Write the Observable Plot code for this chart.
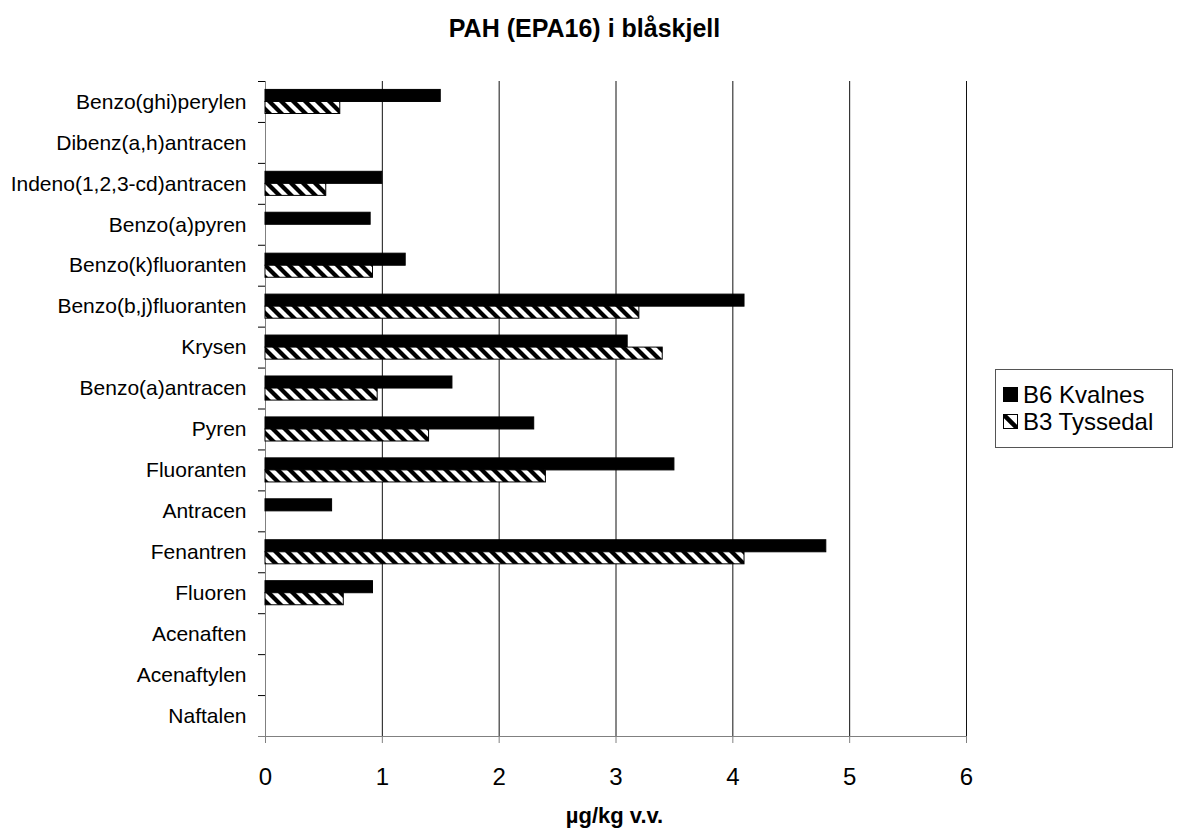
<!DOCTYPE html>
<html>
<head>
<meta charset="utf-8">
<script src="https://cdn.jsdelivr.net/npm/d3@7"></script>
<script src="https://cdn.jsdelivr.net/npm/@observablehq/plot@0.6"></script>
<style>
  body { margin: 0; background: #fff; font-family: "Liberation Sans", Arial, sans-serif; }
  #wrap { position: relative; width: 1179px; height: 839px; background: #fff; }
  .t { position: absolute; white-space: nowrap; line-height: 1; color: #000; }
  #legend { position: absolute; box-sizing: border-box; border: 1px solid #555; background: #fff; }
  .row { position: absolute; white-space: nowrap; line-height: 1; font-size: 24px; height: 24px; width: 170px; }
  .row svg { position: absolute; }
</style>
</head>
<body>
<div id="wrap"></div>
<script>
const title = "PAH (EPA16) i blåskjell";
const xLabel = "µg/kg v.v.";
const categories = [
  "Benzo(ghi)perylen", "Dibenz(a,h)antracen", "Indeno(1,2,3-cd)antracen", "Benzo(a)pyren",
  "Benzo(k)fluoranten", "Benzo(b,j)fluoranten", "Krysen", "Benzo(a)antracen", "Pyren",
  "Fluoranten", "Antracen", "Fenantren", "Fluoren", "Acenaften", "Acenaftylen", "Naftalen"
];
const seriesNames = ["B6 Kvalnes", "B3 Tyssedal"];
const kvalnes  = [1.5, null, 1.0, 0.9, 1.2, 4.1, 3.1, 1.6, 2.3, 3.5, 0.57, 4.8, 0.92, null, null, null];
const tyssedal = [0.64, null, 0.52, null, 0.92, 3.2, 3.4, 0.96, 1.4, 2.4, null, 4.1, 0.67, null, null, null];
const xTicks = [0, 1, 2, 3, 4, 5, 6];

const kvalnesRows = categories.map((c, i) => ({cat: c, value: kvalnes[i]})).filter(d => d.value != null);
const tyssedalRows = categories.map((c, i) => ({cat: c, value: tyssedal[i]})).filter(d => d.value != null);

const W = 1179, H = 839, mt = 81, mb = 103, ml = 265, mr = 213;
const bw = (H - mt - mb) / categories.length;   // band height per category
const barH = bw / 3.4;                           // each bar ~ 30% of band
const gap = 0.7 * barH;                          // outer padding of the bar pair
const font = "'Liberation Sans', Arial, sans-serif";

const chart = Plot.plot({
  width: W, height: H,
  marginTop: mt, marginBottom: mb, marginLeft: ml, marginRight: mr,
  style: {fontFamily: font, background: "white", color: "black"},
  x: {domain: [xTicks[0], xTicks[xTicks.length - 1]]},
  y: {domain: categories, padding: 0, round: false},
  marks: [
    Plot.ruleX(xTicks.slice(1), {stroke: "#111", strokeWidth: 1}),
    Plot.ruleX([0], {stroke: "#808080"}),
    Plot.barX(kvalnesRows, {x: "value", y: "cat", fill: "black", stroke: "black", strokeWidth: 1,
      insetTop: gap, insetBottom: gap + barH}),
    Plot.barX(tyssedalRows, {x: "value", y: "cat", fill: "url(#hatch)", stroke: "black", strokeWidth: 1,
      insetTop: gap + barH, insetBottom: gap}),
    Plot.gridY({ticks: [categories[categories.length - 1]], dy: bw / 2, insetLeft: -7, stroke: "#808080", strokeOpacity: 1}),
    Plot.axisX({anchor: "bottom", ticks: xTicks, tickFormat: d3.format("d"), tickSize: 7, tickPadding: 24,
      fontSize: 24, stroke: "#808080", fill: "black", label: null}),
    Plot.axisY({anchor: "left", tickSize: 0, tickPadding: 19, fontSize: 21, fill: "black", label: null}),
    Plot.axisY({anchor: "left", tickSize: 7, tickFormat: () => "", dy: -bw / 2, stroke: "black", label: null})
  ]
});

// hatch pattern definition
const P = 12;
const defs = d3.select(chart).insert("defs", ":first-child");
const pat = defs.append("pattern").attr("id", "hatch").attr("patternUnits", "userSpaceOnUse")
  .attr("width", P).attr("height", P);
pat.append("rect").attr("width", P).attr("height", P).attr("fill", "white");
pat.append("path")
  .attr("d", `M0,0L${P},${P}M${-P/2},${P/2}L${P/2},${1.5*P}M${P/2},${-P/2}L${1.5*P},${P/2}`)
  .attr("stroke", "black").attr("stroke-width", P / (2 * Math.SQRT2));
const pat2 = defs.append("pattern").attr("id", "hatchLegend").attr("patternUnits", "userSpaceOnUse")
  .attr("width", 20).attr("height", 20);
pat2.append("rect").attr("width", 20).attr("height", 20).attr("fill", "white");
pat2.append("path").attr("d", "M-2,-2L22,22").attr("stroke", "black").attr("stroke-width", 4.5);

const wrap = document.getElementById("wrap");
wrap.appendChild(chart);
chart.style.position = "absolute";
chart.style.left = "0px";
chart.style.top = "0px";

function addText(txt, cx, baseline, size, weight) {
  const d = document.createElement("div");
  d.className = "t";
  d.textContent = txt;
  d.style.fontSize = size + "px";
  d.style.fontWeight = weight;
  d.style.fontFamily = font;
  d.style.left = cx + "px";
  d.style.top = (baseline - 0.8465 * size) + "px";
  d.style.transform = "translateX(-50%)";
  wrap.appendChild(d);
}
addText(title, 584.5, 37.5, 25, "bold");
addText(xLabel, 614.5, 824, 22, "bold");

// legend
const lg = document.createElement("div");
lg.id = "legend";
lg.style.left = "995px"; lg.style.top = "369px"; lg.style.width = "178px"; lg.style.height = "79px";
wrap.appendChild(lg);
const swFill = ["black", "url(#hatchLegend)"];
seriesNames.forEach((s, i) => {
  const r = document.createElement("div");
  r.className = "row";
  r.style.left = "0px";
  r.style.top = (13 + i * 27) + "px";
  r.style.fontFamily = font;
  r.innerHTML = `<svg width="16" height="16" style="left:7px;top:4px"><rect x="0.5" y="0.5" width="14" height="14" fill="${swFill[i]}" stroke="black" stroke-width="1"/></svg><span style="position:absolute;left:27px;top:0">${s}</span>`;
  lg.appendChild(r);
});
</script>
</body>
</html>
